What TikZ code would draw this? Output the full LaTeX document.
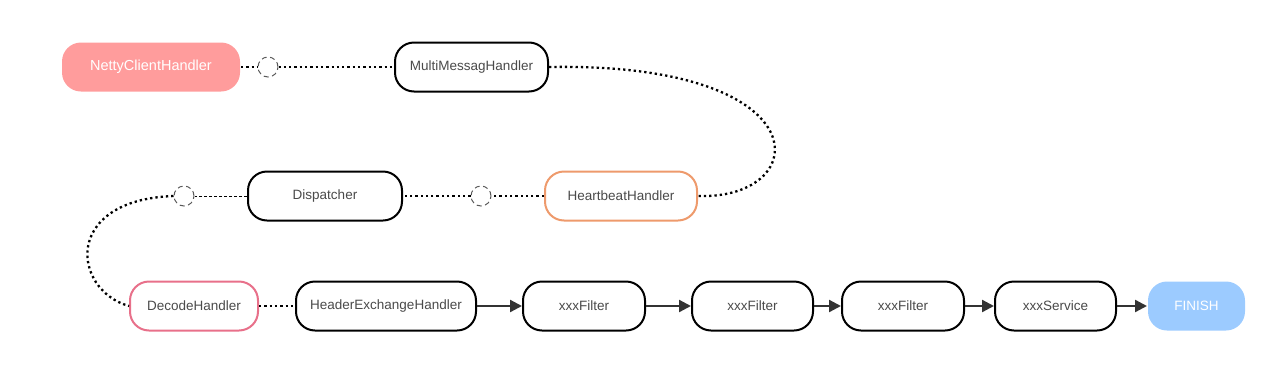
\documentclass[tikz,border=0pt]{standalone}
\usepackage{fontspec}
\setmainfont{Liberation Sans}
\usetikzlibrary{arrows.meta}
\definecolor{txt}{HTML}{4A4A4A}
\definecolor{nettyfill}{HTML}{FF9C9C}
\definecolor{heartc}{HTML}{EE9A6C}
\definecolor{decodec}{HTML}{E8708A}
\definecolor{finishfill}{HTML}{9CCBFF}
\definecolor{arrowc}{HTML}{333333}
\tikzset{
  box/.style={draw=black, line width=2pt, rounded corners=19pt, minimum height=49pt,
    inner sep=0pt, fill=white, text=txt, font=\fontsize{13.5}{16}\selectfont},
  joint/.style={circle, draw=black!65, line width=1pt, dash pattern=on 5pt off 3.5pt,
    minimum size=20pt, inner sep=0pt},
  dotline/.style={line width=2.3pt, dash pattern=on 2.3pt off 3pt},
  thinline/.style={line width=1pt, dash pattern=on 3pt off 2pt},
  arr/.style={draw=arrowc, line width=2.3pt, -{Triangle[length=12pt,width=12pt]}},
}
\begin{document}
\begin{tikzpicture}[x=1pt,y=-1pt]
\useasboundingbox (0,0) rectangle (1280,381);
% nodes
\node[box, draw=none, fill=nettyfill, text=white, minimum width=178pt,
  font=\fontsize{14.5}{17}\selectfont] (netty) at (151,67) {NettyClientHandler};
\node[joint] (c1) at (268,67) {};
\node[box, minimum width=153pt] (multi) at (471.5,67) {MultiMessagHandler};
\node[box, draw=heartc, minimum width=152pt] (heart) at (621,196) {HeartbeatHandler};
\node[joint] (c2) at (481,196) {};
\node[box, minimum width=154pt] (disp) at (325,196) {Dispatcher};
\node[joint] (c3) at (184,196) {};
\node[box, draw=decodec, minimum width=128pt] (decode) at (194,306) {DecodeHandler};
\node[box, minimum width=180pt] (hex) at (386,306) {HeaderExchangeHandler};
\node[box, minimum width=122pt] (f1) at (584,306) {xxxFilter};
\node[box, minimum width=121pt] (f2) at (752.5,306) {xxxFilter};
\node[box, minimum width=122pt] (f3) at (903,306) {xxxFilter};
\node[box, minimum width=121pt] (svc) at (1055.5,306) {xxxService};
\node[box, draw=none, fill=finishfill, text=white, minimum width=97pt] (fin) at (1196.5,306) {FINISH};
% connectors
\draw[dotline] (netty.east) -- (c1.west);
\draw[dotline] (c1.east) -- (multi.west);
\draw[dotline] (multi.east) .. controls (824,62) and (814,200) .. (heart.east);
\draw[dotline] (heart.west) -- (c2.east);
\draw[dotline] (c2.west) -- (disp.east);
\draw[thinline] (disp.west) -- (c3.east);
\draw[dotline] (c3.west) .. controls (62,200) and (72,290) .. (decode.west);
\draw[dotline] (decode.east) -- (hex.west);
\draw[arr] (hex.east) -- (f1.west);
\draw[arr] (f1.east) -- (f2.west);
\draw[arr] (f2.east) -- (f3.west);
\draw[arr] (f3.east) -- (svc.west);
\draw[arr] (svc.east) -- (fin.west);
\end{tikzpicture}
\end{document}
